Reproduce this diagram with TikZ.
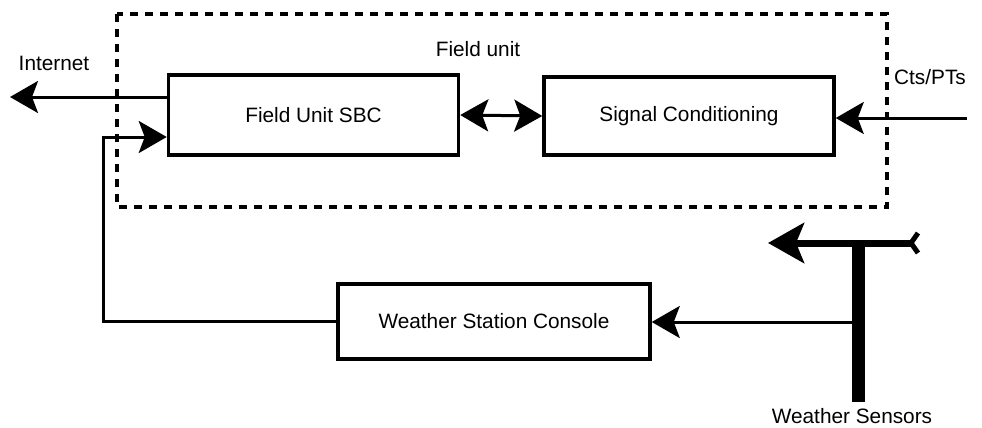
\documentclass[tikz,border=0pt]{standalone}
\usepackage{fontspec}
\setmainfont{Liberation Sans}
\usetikzlibrary{arrows.meta}
\begin{document}
\begin{tikzpicture}[x=1pt,y=-1pt,
  txt/.style={font=\fontsize{20.8}{24}\selectfont, inner sep=0pt},
  box/.style={txt, draw, line width=3.5pt, fill=white},
  arr/.style={line width=3pt, -{Stealth[length=28pt,width=32pt,inset=6pt]}},
  darr/.style={line width=3pt, {Stealth[length=28pt,width=32pt,inset=6pt]}-{Stealth[length=28pt,width=32pt,inset=6pt]}},
  bigarr/.style={line width=7pt, -{Stealth[length=36pt,width=40pt,inset=8pt]}},
  frame/.style={line width=3.5pt, dash pattern=on 8pt off 7pt}
]
\useasboundingbox (0,0) rectangle (982,428);
% field unit frame
\draw[frame] (117,14) rectangle (887,207);
\node[txt] (fulabel) at (478,49) {Field unit};
% boxes
\node[box, minimum width=290pt, minimum height=80pt] (sbc) at (313.5,115) {Field Unit SBC};
\node[box, minimum width=290pt, minimum height=78pt] (sig) at (689,116) {Signal Conditioning};
\node[box, minimum width=312pt, minimum height=75pt] (wsc) at (494,321.5) {Weather Station Console};
% labels
\node[txt] (inetlabel) at (54,63) {Internet};
\node[txt] (ctslabel) at (930,77) {Cts/PTs};
\node[txt] (wslabel) at (852,416) {Weather Sensors};
% coordinates
\coordinate (inet) at (10,97);
\coordinate (fb) at (103,137);
\coordinate (cts) at (967,118);
\coordinate (ttip) at (768,243);
\coordinate (ttail) at (911,243);
\coordinate (ttop) at (858.5,243);
\coordinate (tbot) at (858.5,402);
\coordinate (ws) at (852,322);
% connectors
\draw[arr] (sbc.west |- inet) -- (inet);
\draw[arr] (wsc.west) -| (fb) -- (sbc.west |- fb);
\draw[darr] (sbc.east) -- (sig.west);
\draw[arr] (cts) -- (sig.east |- cts);
\draw[arr] (ws) -- (wsc.east |- ws);
% weather sensor mast
\draw[bigarr] (ttail) -- (ttip);
\draw[line width=5pt] ([shift={(7,-10)}]ttail) -- (ttail) -- ([shift={(7,10)}]ttail);
\draw[line width=13pt] (ttop) -- (tbot);
\end{tikzpicture}
\end{document}
